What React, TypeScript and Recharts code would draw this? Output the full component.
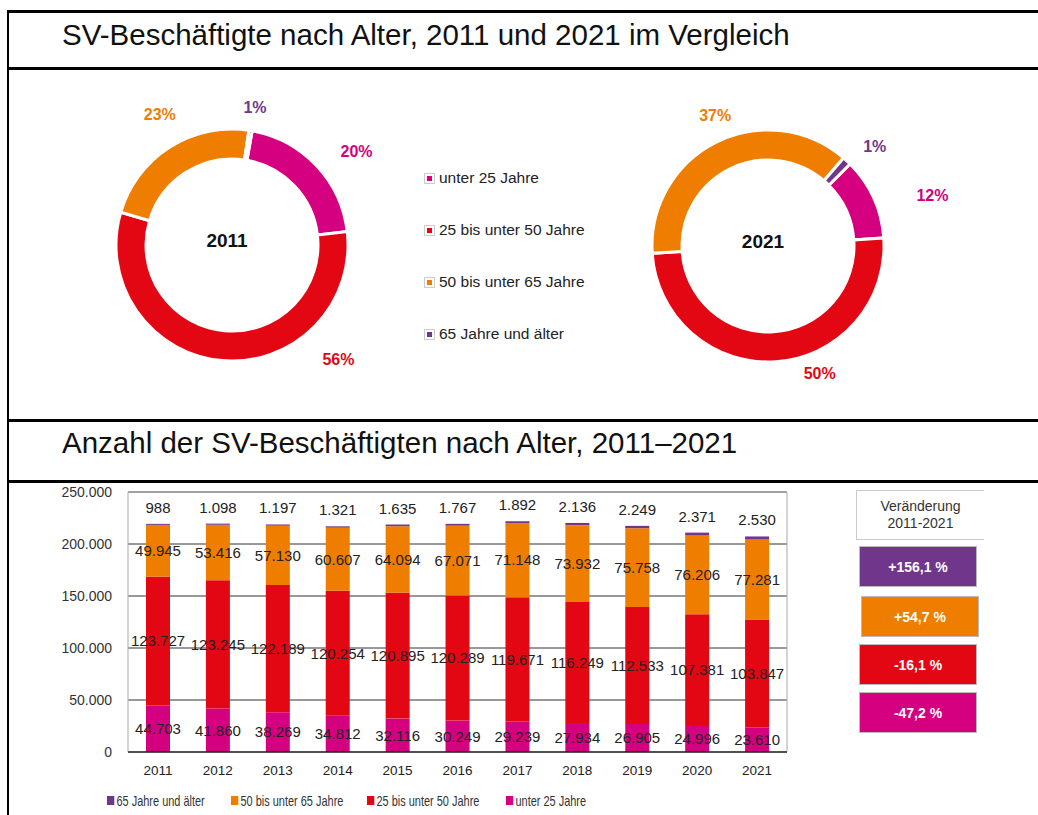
import React from "react";
import {
  PieChart,
  Pie,
  Cell,
  BarChart,
  Bar,
  XAxis,
  YAxis,
  CartesianGrid,
  LabelList,
  ReferenceArea,
} from "recharts";

const YEARS = ["2011", "2012", "2013", "2014", "2015", "2016", "2017", "2018", "2019", "2020", "2021"];
const UNDER_25 = [44703, 41860, 38269, 34812, 32116, 30249, 29239, 27934, 26905, 24996, 23610];
const AGE_25_50 = [123727, 123245, 122189, 120254, 120895, 120289, 119671, 116249, 112533, 107381, 103847];
const AGE_50_65 = [49945, 53416, 57130, 60607, 64094, 67071, 71148, 73932, 75758, 76206, 77281];
const AGE_65_PLUS = [988, 1098, 1197, 1321, 1635, 1767, 1892, 2136, 2249, 2371, 2530];

const GROUPS = ["unter 25 Jahre", "25 bis unter 50 Jahre", "50 bis unter 65 Jahre", "65 Jahre und älter"];
const PCT_2011 = ["20%", "56%", "23%", "1%"];
const PCT_2021 = ["12%", "50%", "37%", "1%"];
const Y_TICKS = [0, 50000, 100000, 150000, 200000, 250000];

const COLORS = ["#D5007F", "#E30613", "#EF7D00", "#6F368B"];
const FONT = "'Liberation Sans', Arial, Helvetica, sans-serif";

// label placement around the donuts: [degrees clockwise from top, distance from centre]
const LABEL_POS_2011 = [[53, 156], [137, 156], [331, 149], [9.5, 139]];
const LABEL_POS_2021 = [[73, 172], [158, 138], [338, 141], [47, 146]];

const SERIES = [UNDER_25, AGE_25_50, AGE_50_65, AGE_65_PLUS];
const pieData = (idx: number) => GROUPS.map((name, i) => ({ name, value: SERIES[i][idx] }));

const barData = YEARS.map((year, i) => ({
  year,
  u25: UNDER_25[i],
  a25: AGE_25_50[i],
  a50: AGE_50_65[i],
  a65: AGE_65_PLUS[i],
}));

const fmt = (v: any) => String(v).replace(/\B(?=(\d{3})+(?!\d))/g, ".");

const change = (s: number[]) => {
  const p = (s[s.length - 1] / s[0] - 1) * 100;
  return (p > 0 ? "+" : "") + p.toFixed(1).replace(".", ",") + " %";
};

const pieLabel = (pos: number[][], pct: string[]) => (props: any) => {
  const { cx, cy, index } = props;
  const [deg, dist] = pos[index];
  const rad = (deg * Math.PI) / 180;
  return (
    <text
      x={cx + dist * Math.sin(rad)}
      y={cy - dist * Math.cos(rad)}
      textAnchor="middle"
      dominantBaseline="central"
      fill={COLORS[index]}
      fontWeight="bold"
      fontSize={16}
      fontFamily={FONT}
    >
      {pct[index]}
    </text>
  );
};

const hLine = (top: number) => (
  <div style={{ position: "absolute", left: 8, right: 0, top, height: 3, background: "#000" }} />
);

const centerText = (x: number, y: number, txt: string) => (
  <div
    style={{
      position: "absolute",
      left: x - 40,
      top: y - 12,
      width: 80,
      height: 24,
      lineHeight: "24px",
      textAlign: "center",
      fontSize: 19,
      fontWeight: "bold",
      color: "#111",
    }}
  >
    {txt}
  </div>
);

export default function App() {
  return (
    <div
      style={{
        position: "absolute",
        left: 0,
        top: 0,
        width: 1038,
        height: 815,
        background: "#fff",
        fontFamily: FONT,
        color: "#222",
        overflow: "hidden",
      }}
    >
      {hLine(10)}
      {hLine(67)}
      {hLine(419)}
      {hLine(480)}
      <div style={{ position: "absolute", left: 7, top: 10, width: 2, bottom: 0, background: "#000" }} />

      <div style={{ position: "absolute", left: 62, top: 19, fontSize: 29.5, lineHeight: "32px", color: "#111" }}>
        SV-Beschäftigte nach Alter, 2011 und 2021 im Vergleich
      </div>
      <div style={{ position: "absolute", left: 62, top: 427, fontSize: 29.5, lineHeight: "32px", color: "#111" }}>
        Anzahl der SV-Beschäftigten nach Alter, 2011–2021
      </div>

      <div style={{ position: "absolute", left: 0, top: 70 }}>
        <PieChart width={1038} height={348}>
          <Pie
            data={pieData(0)}
            dataKey="value"
            cx={227}
            cy={170}
            innerRadius={86}
            outerRadius={116}
            startAngle={80}
            endAngle={-280}
            stroke="#fff"
            strokeWidth={3}
            label={pieLabel(LABEL_POS_2011, PCT_2011)}
            labelLine={false}
            isAnimationActive={false}
          >
            {GROUPS.map((g, i) => (
              <Cell key={g} fill={COLORS[i]} />
            ))}
          </Pie>
          <Pie
            data={pieData(10)}
            dataKey="value"
            cx={763}
            cy={171}
            innerRadius={86}
            outerRadius={116}
            startAngle={45}
            endAngle={-315}
            stroke="#fff"
            strokeWidth={3}
            label={pieLabel(LABEL_POS_2021, PCT_2021)}
            labelLine={false}
            isAnimationActive={false}
          >
            {GROUPS.map((g, i) => (
              <Cell key={g} fill={COLORS[i]} />
            ))}
          </Pie>
        </PieChart>
      </div>
      {centerText(227, 241, "2011")}
      {centerText(763, 242, "2021")}

      {GROUPS.map((g, i) => (
        <div
          key={g}
          style={{
            position: "absolute",
            left: 424,
            top: 168 + i * 52,
            height: 20,
            display: "flex",
            alignItems: "center",
            fontSize: 15.5,
            color: "#222",
            whiteSpace: "nowrap",
          }}
        >
          <span
            style={{
              width: 9,
              height: 9,
              border: "1px solid #ccc",
              display: "inline-flex",
              alignItems: "center",
              justifyContent: "center",
              marginRight: 4,
            }}
          >
            <span style={{ width: 5, height: 5, background: COLORS[i] }} />
          </span>
          {g}
        </div>
      ))}

      <div style={{ position: "absolute", left: 0, top: 480 }}>
        <BarChart width={800} height={300} data={barData} margin={{ top: 12, right: 13, bottom: 0, left: 0 }}>
          <CartesianGrid vertical={false} stroke="#333" />
          <ReferenceArea y1={0} y2={250000} fill="none" stroke="#aaa" />
          <XAxis
            dataKey="year"
            tickLine={false}
            axisLine={{ stroke: "#000" }}
            height={28}
            tickMargin={7}
            tick={{ fontSize: 13.5, fill: "#222", fontFamily: FONT }}
          />
          <YAxis
            width={128}
            domain={[0, 250000]}
            ticks={Y_TICKS}
            tickFormatter={fmt}
            tickLine={false}
            axisLine={false}
            tickMargin={10}
            tick={{ fontSize: 14, fill: "#333", fontFamily: FONT }}
          />
          <Bar dataKey="u25" stackId="a" fill={COLORS[0]} barSize={24} isAnimationActive={false}>
            <LabelList dataKey="u25" position="center" formatter={fmt} fill="#222" fontSize={15} fontFamily={FONT} />
          </Bar>
          <Bar dataKey="a25" stackId="a" fill={COLORS[1]} barSize={24} isAnimationActive={false}>
            <LabelList dataKey="a25" position="center" formatter={fmt} fill="#222" fontSize={15} fontFamily={FONT} />
          </Bar>
          <Bar dataKey="a50" stackId="a" fill={COLORS[2]} barSize={24} isAnimationActive={false}>
            <LabelList dataKey="a50" position="center" formatter={fmt} fill="#222" fontSize={15} fontFamily={FONT} />
          </Bar>
          <Bar dataKey="a65" stackId="a" fill={COLORS[3]} barSize={24} isAnimationActive={false}>
            <LabelList dataKey="a65" position="top" offset={11} formatter={fmt} fill="#222" fontSize={15} fontFamily={FONT} />
          </Bar>
        </BarChart>
      </div>

      {[3, 2, 1, 0].map((i, k) => (
        <div
          key={i}
          style={{
            display: "flex",
            alignItems: "center",
            position: "absolute",
            left: [107, 231, 367, 506][k],
            top: 790,
            whiteSpace: "nowrap",
            height: 20,
            fontSize: 15,
            color: "#333",
            transform: "scaleX(0.73)",
            transformOrigin: "left center",
          }}
        >
          <span style={{ width: 10, height: 9, background: COLORS[i], marginRight: 3 }} />
          {GROUPS[i]}
        </div>
      ))}

      <div
        style={{
          position: "absolute",
          left: 856,
          top: 490,
          width: 127,
          height: 48,
          borderTop: "1px solid #ccc",
          borderLeft: "1px solid #ccc",
          borderBottom: "1px solid #ccc",
          display: "flex",
          flexDirection: "column",
          alignItems: "center",
          justifyContent: "center",
          fontSize: 14,
          lineHeight: "17px",
          color: "#333",
        }}
      >
        <div>Veränderung</div>
        <div>2011-2021</div>
      </div>
      {[3, 2, 1, 0].map((i, k) => (
        <div
          key={i}
          style={{
            position: "absolute",
            left: k === 1 ? 861 : 859,
            top: [546, 596, 644, 692][k],
            width: 118,
            height: 41,
            background: COLORS[i],
            border: "1px solid #bbb",
            boxSizing: "border-box",
            display: "flex",
            alignItems: "center",
            justifyContent: "center",
            color: "#fff",
            fontWeight: "bold",
            fontSize: 14,
          }}
        >
          {change(SERIES[i])}
        </div>
      ))}
    </div>
  );
}
